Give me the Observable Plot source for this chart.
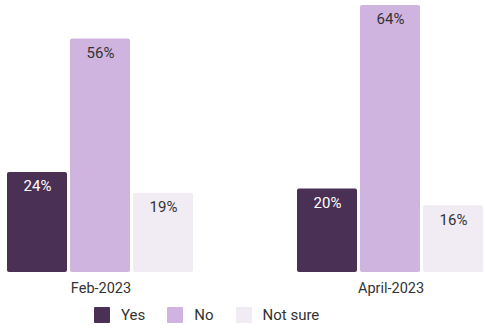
<!DOCTYPE html>
<html>
<head>
<meta charset="utf-8">
<script src="https://cdn.jsdelivr.net/npm/d3@7"></script>
<script src="https://cdn.jsdelivr.net/npm/@observablehq/plot@0.6"></script>
<style>
  html, body { margin: 0; padding: 0; background: #fff; }
  body { width: 485px; height: 329px; overflow: hidden; font-family: Roboto, sans-serif; }
  #legend { display: flex; justify-content: flex-start; align-items: center; height: 29px; padding-left: 94px; box-sizing: border-box; font-size: 15px; color: #333; }
  .item { display: flex; align-items: center; margin-right: 22px; }
  .sw { width: 16px; height: 16px; margin-right: 11px; border-radius: 1px; }
</style>
</head>
<body>
<div id="chart"></div>
<div id="legend"></div>
<script>
const periods = ["Feb-2023", "April-2023"];
const answers = ["Yes", "No", "Not sure"];
const yesValues = [24, 20];
const noValues = [56, 64];
const notSureValues = [19, 16];
const colors = ["#4a3055", "#d0b4e0", "#f1ebf4"];

const series = [yesValues, noValues, notSureValues];
const data = [];
periods.forEach((p, i) => {
  answers.forEach((a, j) => {
    data.push({period: p, answer: a, value: series[j][i]});
  });
});

const chart = Plot.plot({
  width: 485,
  height: 300,
  marginTop: 5,
  marginBottom: 28,
  marginLeft: 5,
  marginRight: 0,
  style: {fontFamily: "Roboto, sans-serif", fontSize: "14.5px", color: "#333", background: "#fff"},
  fx: {domain: periods, paddingInner: 0.35, paddingOuter: 0, label: null, axis: "bottom", tickSize: 0, tickPadding: 10},
  x: {domain: answers, paddingInner: 0.04, paddingOuter: 0, axis: null},
  y: {domain: [0, 64], axis: null},
  color: {domain: answers, range: colors},
  marks: [
    Plot.barY(data, {fx: "period", x: "answer", y: "value", fill: "answer", rx: 2}),
    Plot.text(data.filter(d => d.answer === "Yes"), {fx: "period", x: "answer", y: "value", text: d => d.value + "%", dy: 14, fill: "white", fontSize: 15}),
    Plot.text(data.filter(d => d.answer !== "Yes"), {fx: "period", x: "answer", y: "value", text: d => d.value + "%", dy: 14, fill: "#333", fontSize: 15})
  ]
});
document.getElementById("chart").appendChild(chart);

const legend = document.getElementById("legend");
answers.forEach((a, i) => {
  const item = document.createElement("div");
  item.className = "item";
  const sw = document.createElement("div");
  sw.className = "sw";
  sw.style.background = colors[i];
  const lab = document.createElement("span");
  lab.textContent = a;
  item.appendChild(sw);
  item.appendChild(lab);
  legend.appendChild(item);
});
</script>
</body>
</html>
